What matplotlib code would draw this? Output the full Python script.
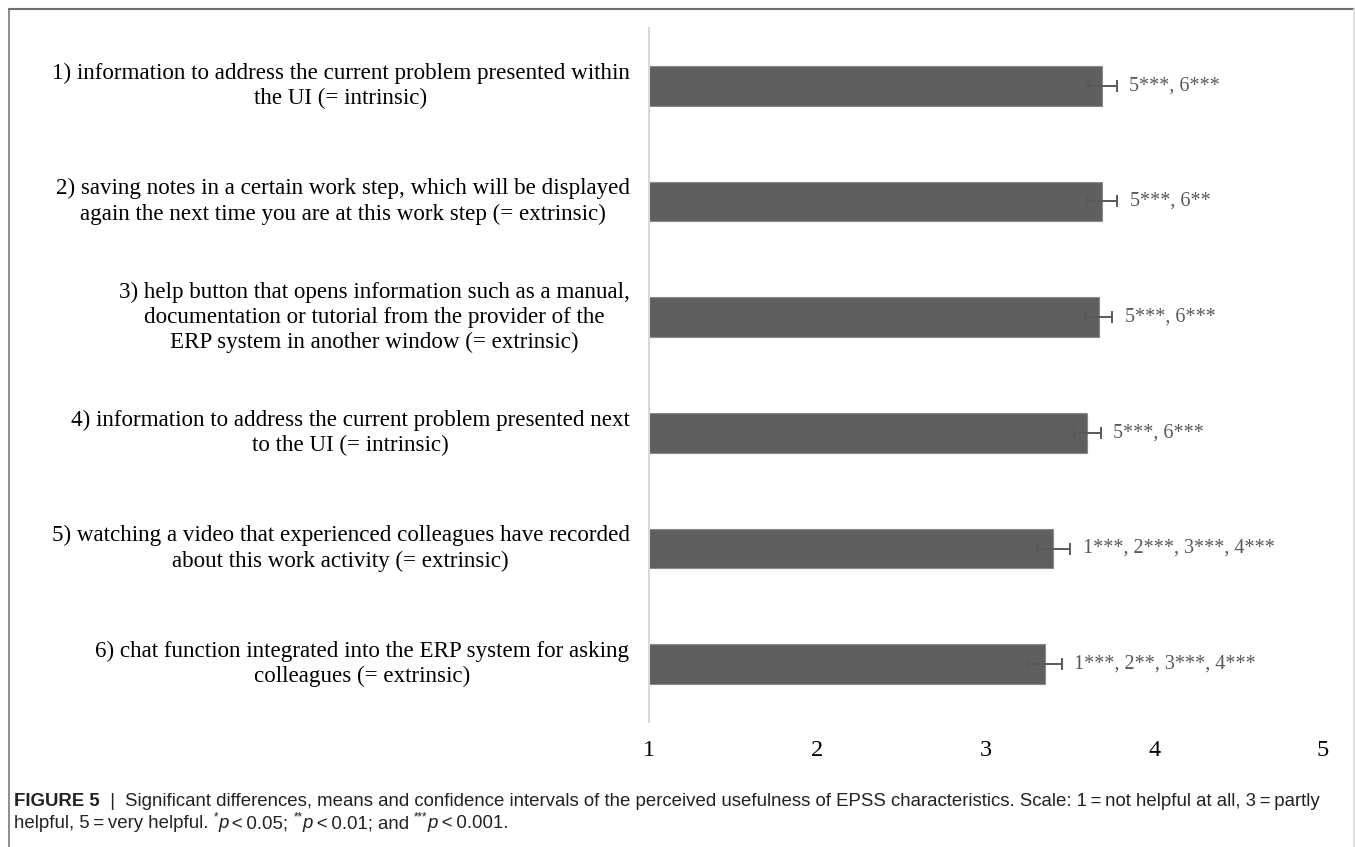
import matplotlib
matplotlib.use('Agg')
import matplotlib.pyplot as plt
from matplotlib.lines import Line2D

# Data
LABELS = [
    "1) information to address the current problem presented within\nthe UI (= intrinsic)",
    "2) saving notes in a certain work step, which will be displayed\nagain the next time you are at this work step (= extrinsic)",
    "3) help button that opens information such as a manual,\ndocumentation or tutorial from the provider of the\nERP system in another window (= extrinsic)",
    "4) information to address the current problem presented next\nto the UI (= intrinsic)",
    "5) watching a video that experienced colleagues have recorded\nabout this work activity (= extrinsic)",
    "6) chat function integrated into the ERP system for asking\ncolleagues (= extrinsic)",
]
MEANS = [3.69, 3.69, 3.67, 3.60, 3.40, 3.35]
CI_HALF = [0.085, 0.09, 0.08, 0.08, 0.10, 0.10]
SIG = ["5***, 6***", "5***, 6**", "5***, 6***", "5***, 6***",
       "1***, 2***, 3***, 4***", "1***, 2**, 3***, 4***"]
XTICKS = [1, 2, 3, 4, 5]

SERIF = 'Liberation Serif'
SANS = 'Liberation Sans'
TS = '\u2009'

W, H = 1355, 847
fig = plt.figure(figsize=(W / 100, H / 100), dpi=100)
ax = fig.add_axes([649 / W, 1 - 722 / H, (1323 - 649) / W, (722 - 28) / H])

ypos = list(range(len(MEANS)))
ax.barh(ypos, [m - 1 for m in MEANS], left=1, height=0.345,
        color='#5f5f5f', edgecolor='#8a8a8a', linewidth=0.8, zorder=2)
ax.errorbar(MEANS, ypos, xerr=CI_HALF, fmt='none', ecolor='#595959',
            elinewidth=1.4, capsize=4, capthick=1.4, zorder=3)

for y, m, e, s in zip(ypos, MEANS, CI_HALF, SIG):
    ax.annotate(s, xy=(m + e, y), xytext=(9, 0), textcoords='offset points',
                va='center', ha='left', fontsize=14.5, family=SERIF, color='#595959')
    ax.annotate(LABELS[y], xy=(1, y), xytext=(-14, 0), textcoords='offset points',
                va='center', ha='right', multialignment='center',
                fontsize=16.6, family=SERIF, color='black', linespacing=1.25)

ax.set_xlim(1, 5)
ax.set_ylim(5.5, -0.5)
ax.set_xticks(XTICKS)
ax.set_xticklabels([str(t) for t in XTICKS], family=SERIF, fontsize=17.5)
ax.tick_params(axis='x', length=0, pad=13)
ax.set_yticks([])
for side in ['top', 'right', 'bottom']:
    ax.spines[side].set_visible(False)
ax.spines['left'].set_color('#d9d9d9')
ax.spines['left'].set_linewidth(1.5)

# frame around the figure
fig.add_artist(Line2D([9 / W, 1354 / W], [1 - 9 / H, 1 - 9 / H], color='#6e6e6e', lw=1.5))
fig.add_artist(Line2D([9 / W, 9 / W], [0, 1 - 9 / H], color='#7a7a7a', lw=1.2))
fig.add_artist(Line2D([1354 / W, 1354 / W], [0, 1 - 9 / H], color='#dcdcdc', lw=1.2))


def run_text(x_px, y_px, parts, size=13.4, color='#222222'):
    # draw text pieces one after another on a baseline, in pixel coordinates
    renderer = fig.canvas.get_renderer()
    x = x_px
    for txt, kw in parts:
        sup = kw.pop('sup', False)
        fs = size * 0.62 if sup else size
        dy = size * 0.55 if sup else 0
        t = fig.text(x / W, 1 - (y_px - dy) / H, txt, family=SANS, fontsize=fs,
                     color=color, va='baseline', ha='left', **kw)
        x += t.get_window_extent(renderer).width


run_text(14, 806, [
    ("FIGURE 5", dict(weight='bold')),
    ("  |  ", {}),
    ("Significant differences, means and confidence intervals of the perceived usefulness "
     "of EPSS characteristics. Scale: 1" + TS + "=" + TS + "not helpful at all, 3" + TS + "=" + TS + "partly", {}),
])
run_text(14, 828, [
    ("helpful, 5" + TS + "=" + TS + "very helpful. ", {}),
    ("*", dict(sup=True)), ("p", dict(style='italic')), (TS + "<" + TS + "0.05; ", {}),
    ("**", dict(sup=True)), ("p", dict(style='italic')), (TS + "<" + TS + "0.01; and ", {}),
    ("***", dict(sup=True)), ("p", dict(style='italic')), (TS + "<" + TS + "0.001.", {}),
])

plt.savefig('out.png', dpi=100)
